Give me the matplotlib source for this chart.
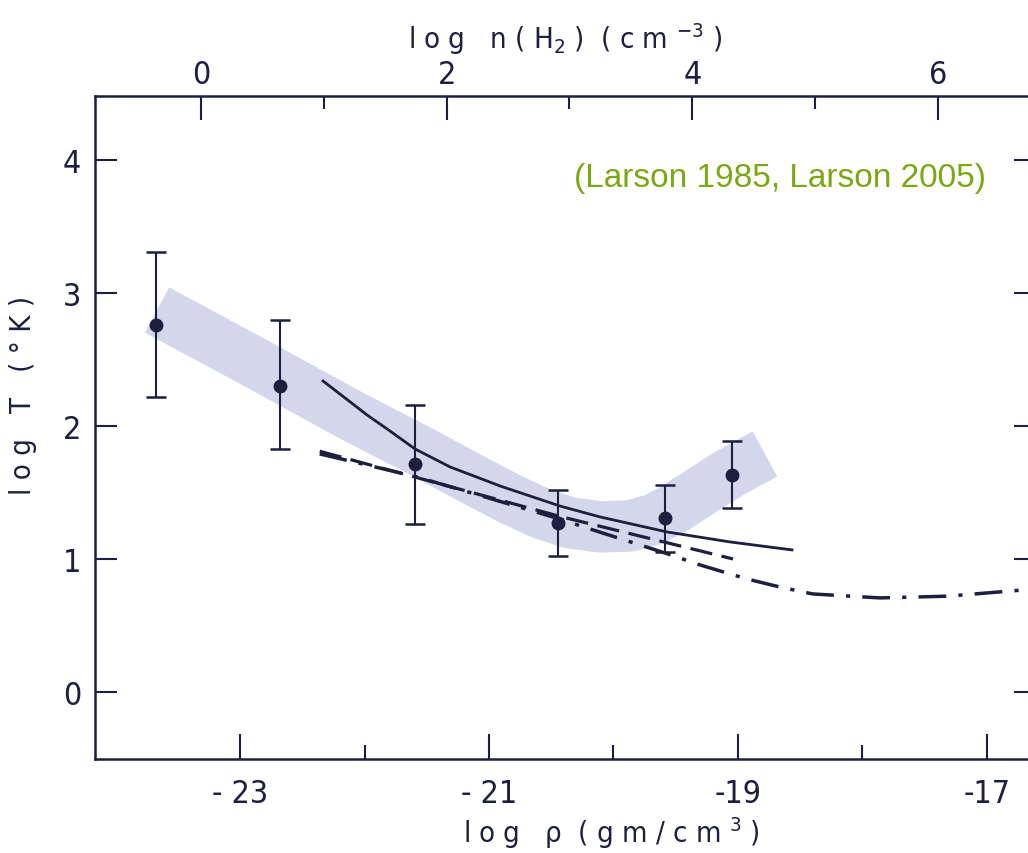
import matplotlib
matplotlib.use("Agg")
import matplotlib.pyplot as plt
import numpy as np

# ---------------- data ----------------
# observed points: log rho, log T, lower / upper error bar ends
pt_logrho = [-23.675, -22.679, -21.594, -20.446, -19.586, -19.048]
pt_logT   = [2.759, 2.301, 1.714, 1.271, 1.308, 1.632]
pt_low    = [2.218, 1.827, 1.263, 1.023, 1.053, 1.383]
pt_high   = [3.308, 2.797, 2.158, 1.519, 1.556, 1.887]

# solid curve
solid_logrho = [-22.333, -22.157, -21.980, -21.795, -21.594, -21.313, -20.912,
                -20.430, -20.108, -19.570, -19.064, -18.566]
solid_logT   = [2.338, 2.211, 2.083, 1.962, 1.827, 1.692, 1.549,
                1.398, 1.316, 1.203, 1.128, 1.068]

# dash-dot curve
dashdot_logrho = [-22.36, -21.59, -20.43, -20.27, -19.57, -19.305, -18.93,
                  -18.663, -18.40, -17.86, -17.32, -16.60]
dashdot_logT   = [1.79, 1.62, 1.30, 1.25, 1.04, 0.955, 0.85,
                  0.789, 0.737, 0.707, 0.72, 0.775]

# dashed line
dashed_logrho = [-22.36, -20.43, -19.04]
dashed_logT   = [1.81, 1.32, 1.00]

# shaded band (centre line)
band_logrho = [-23.667, -22.920, -22.116, -21.554, -21.153, -20.831, -20.590,
               -20.349, -20.108, -19.867, -19.667, -19.506, -19.305, -19.064,
               -18.783]
band_logT   = [2.872, 2.496, 2.083, 1.812, 1.609, 1.451, 1.346,
               1.271, 1.241, 1.248, 1.301, 1.383, 1.504, 1.647,
               1.789]

xticks_major = [-23, -21, -19, -17]
xtick_labels = ["- 23", "- 21", "-19", "-17"]
xticks_minor = [-22, -20, -18]
yticks_major = [0, 1, 2, 3, 4]
ytick_labels = ["0", "1", "2", "3", "4"]
top_major = [0, 2, 4, 6]
top_minor = [1, 3, 5]

annot_text = "(Larson 1985, Larson 2005)"

# ---------------- style ----------------
INK = "#1c1f3d"
BAND = "#d4d7ec"
GREEN = "#7aa812"
plt.rcParams["font.family"] = ["DejaVu Sans"]
plt.rcParams["font.stretch"] = "condensed"
plt.rcParams["mathtext.default"] = "regular"

fig = plt.figure(figsize=(10.28, 8.54), dpi=100)
ax = fig.add_axes([0.0924, 0.1101, 0.9154, 0.7763])
ax.set_xlim(-24.165, -16.606)
ax.set_ylim(-0.504, 4.481)

# band
ax.plot(band_logrho, band_logT, color=BAND, lw=37, solid_capstyle="butt",
        solid_joinstyle="round", zorder=1)

# curves
ax.plot(solid_logrho, solid_logT, color=INK, lw=2.0, zorder=3,
        solid_joinstyle="round")
ax.plot(dashed_logrho, dashed_logT, color=INK, lw=2.3, ls=(0, (7, 3)), zorder=3)
ax.plot(dashdot_logrho, dashdot_logT, color=INK, lw=2.5,
        ls=(0, (8, 3.5, 1.2, 3.5)), zorder=3)

# points with asymmetric error bars
yerr = [np.array(pt_logT) - np.array(pt_low), np.array(pt_high) - np.array(pt_logT)]
ax.errorbar(pt_logrho, pt_logT, yerr=yerr, fmt="o", color=INK, ms=9,
            elinewidth=1.5, capsize=7, capthick=1.8, zorder=4)

# spines / ticks
for s in ax.spines.values():
    s.set_color(INK)
    s.set_linewidth(1.8)

ax.set_xticks(xticks_major)
ax.set_xticklabels(xtick_labels)
ax.set_xticks(xticks_minor, minor=True)
ax.set_yticks(yticks_major)
ax.set_yticklabels(ytick_labels)
ax.tick_params(axis="x", which="major", direction="in", length=18, width=1.5,
               color=INK, labelcolor=INK, labelsize=23, pad=14, top=False)
ax.tick_params(axis="x", which="minor", direction="in", length=10, width=1.5,
               color=INK, top=False)
ax.tick_params(axis="y", which="major", direction="in", length=16, width=1.5,
               color=INK, labelcolor=INK, labelsize=23, pad=10, right=True)

sec = ax.secondary_xaxis("top", functions=(lambda r: 1.0137 * (r + 23.313),
                                           lambda n: n / 1.0137 - 23.313))
sec.set_xticks(top_major)
sec.set_xticklabels([str(v) for v in top_major])
sec.set_xticks(top_minor, minor=True)
sec.tick_params(axis="x", which="major", direction="in", length=17, width=1.5,
                color=INK, labelcolor=INK, labelsize=23, pad=4)
sec.tick_params(axis="x", which="minor", direction="in", length=9, width=1.5,
                color=INK)
sec.spines["top"].set_visible(False)

# axis labels
ax.set_xlabel(r"l o g   $\rho$  ( g m / c m $^3$ )", fontsize=21, color=INK)
ax.xaxis.set_label_coords(0.549, -0.083, transform=ax.transAxes)
ax.xaxis.label.set_va("top")
sec.set_xlabel(r"l o g   n ( H$_2$ )  ( c m $^{-3}$ )", fontsize=21, color=INK,
               labelpad=8)
ax.set_ylabel("l o g   T   ( ° K )", fontsize=21, color=INK)
ax.yaxis.set_label_coords(-0.062, 0.55, transform=ax.transAxes)

fig.text(780 / 1028, 1 - 178 / 854, annot_text, color=GREEN, fontsize=24,
         family=["Liberation Sans", "DejaVu Sans"], stretch="normal",
         ha="center", va="center")

fig.savefig("out.png", dpi=100)
